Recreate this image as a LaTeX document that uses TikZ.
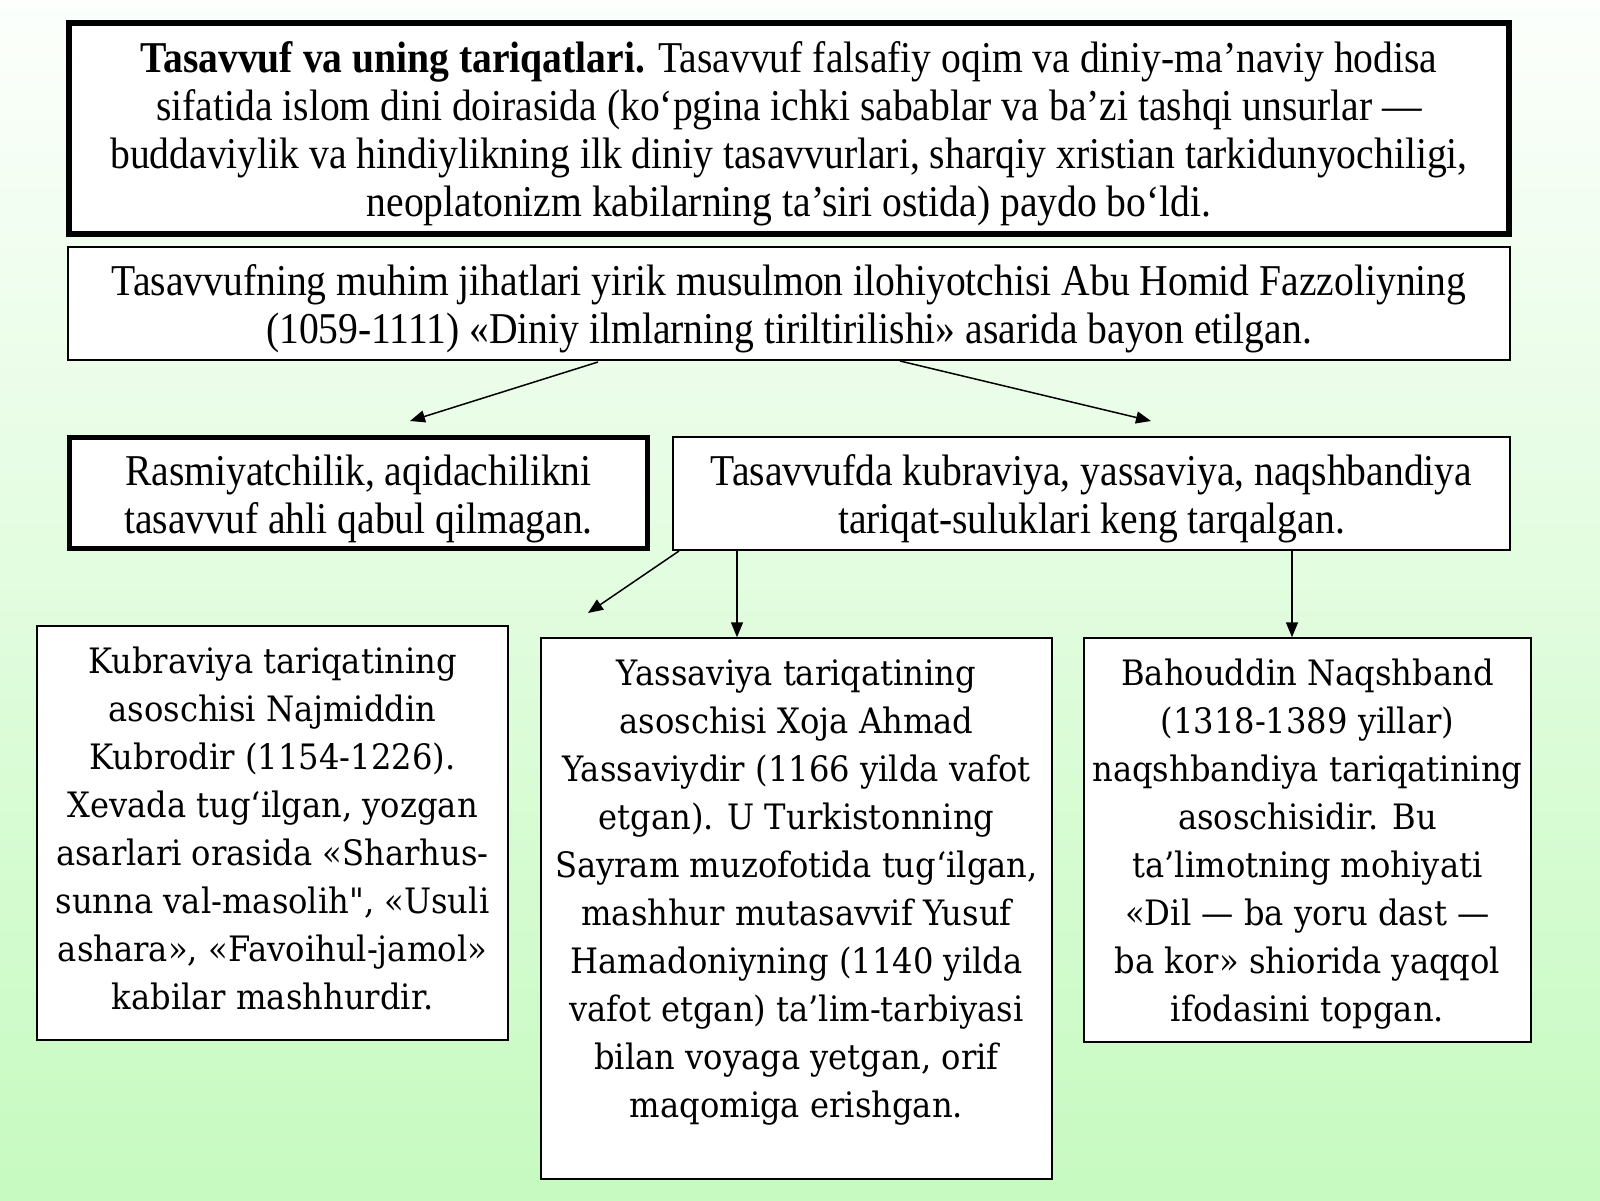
\documentclass[tikz,border=0pt]{standalone}
\usepackage{fontspec}
\usetikzlibrary{arrows.meta}
\newfontfamily\topfont[FakeStretch=0.9]{Liberation Serif}
\newfontfamily\lowfont[FakeStretch=0.92]{DejaVu Serif}
\definecolor{bgtop}{RGB}{252,255,252}
\definecolor{bgbot}{RGB}{198,250,192}
\newcommand{\firststrut}[1]{\rule{0pt}{#1}}
\newcommand{\laststrut}[1]{\rule[-#1]{0pt}{#1}}
\tikzset{
  thickbox/.style={draw=black, line width=6pt, fill=white, inner sep=0pt, align=center, font=\topfont\fontsize{44}{48}\selectfont},
  thinbox/.style={draw=black, line width=1.5pt, fill=white, inner sep=0pt, align=center, font=\topfont\fontsize{44}{48}\selectfont},
  lowbox/.style={draw=black, line width=1.5pt, fill=white, inner sep=0pt, align=center, font=\lowfont\fontsize{35}{48}\selectfont},
  lowtext/.style={inner sep=0pt, align=center, font=\lowfont\fontsize{35}{48}\selectfont},
  arr/.style={line width=1.5pt, -{Triangle[length=15pt,width=12pt]}}
}
\begin{document}
\begin{tikzpicture}[x=1pt,y=-1pt]
\useasboundingbox (0,0) rectangle (1600,1200);
\shade[top color=bgtop, bottom color=bgbot] (0,0) rectangle (1600,1200);

\node[thickbox, minimum width=1440pt, minimum height=211pt] (top) at (789,128.5)
{\firststrut{42pt}\textbf{Tasavvuf va uning tariqatlari.} Tasavvuf falsafiy oqim va diniy-ma’naviy hodisa\\
sifatida islom dini doirasida (ko‘pgina ichki sabablar va ba’zi tashqi unsurlar —\\
buddaviylik va hindiylikning ilk diniy tasavvurlari, sharqiy xristian tarkidunyochiligi,\\
neoplatonizm kabilarning ta’siri ostida) paydo bo‘ldi.};

\node[thinbox, minimum width=1442pt, minimum height=113pt] (fazz) at (789,303.5)
{\firststrut{42pt}Tasavvufning muhim jihatlari yirik musulmon ilohiyotchisi Abu Homid Fazzoliyning\\
(1059-1111) «Diniy ilmlarning tiriltirilishi» asarida bayon etilgan.};

\node[thickbox, line width=5pt, minimum width=578pt, minimum height=111pt] (rasm) at (358.5,493)
{\firststrut{42pt}Rasmiyatchilik, aqidachilikni\\ tasavvuf ahli qabul qilmagan.};

\node[thinbox, minimum width=837pt, minimum height=113pt] (tar) at (1091.5,493.5)
{\firststrut{42pt}Tasavvufda kubraviya, yassaviya, naqshbandiya\\ tariqat-suluklari keng tarqalgan.};

\node[lowbox, minimum width=471pt, minimum height=414pt] (kub) at (272.5,833)
{Kubraviya tariqatining\\ asoschisi Najmiddin\\ Kubrodir (1154-1226).\\ Xevada tug‘ilgan, yozgan\\ asarlari orasida «Sharhus-\\ sunna val-masolih", «Usuli\\ ashara», «Favoihul-jamol»\\ kabilar mashhurdir.\laststrut{9pt}};

\node[lowbox, minimum width=511pt, minimum height=541pt] (yas) at (796.5,908.5) {};
\node[lowtext, anchor=north] (yastxt) at ([yshift=-22pt]yas.north)
{Yassaviya tariqatining\\ asoschisi Xoja Ahmad\\ Yassaviydir (1166 yilda vafot\\ etgan). U Turkistonning\\ Sayram muzofotida tug‘ilgan,\\ mashhur mutasavvif Yusuf\\ Hamadoniyning (1140 yilda\\ vafot etgan) ta’lim-tarbiyasi\\ bilan voyaga yetgan, orif\\ maqomiga erishgan.};

\node[lowbox, minimum width=447pt, minimum height=404pt] (bah) at (1307.5,840)
{\firststrut{35pt}Bahouddin Naqshband\\ (1318-1389 yillar)\\ naqshbandiya tariqatining\\ asoschisidir. Bu\\ ta’limotning mohiyati\\ «Dil — ba yoru dast —\\ ba kor» shiorida yaqqol\\ ifodasini topgan.};

\coordinate (s1) at (598,362);
\coordinate (e1) at (410,421);
\coordinate (s2) at (900,361);
\coordinate (e2) at (1151,421);
\coordinate (s3) at (679,551);
\coordinate (e3) at (588,613);
\coordinate (s4) at (737,551);
\coordinate (s5) at (1292,551);

\draw[arr] (s1) -- (e1);
\draw[arr] (s2) -- (e2);
\draw[arr] (s3) -- (e3);
\draw[arr] (s4) -- (s4 |- yas.north);
\draw[arr] (s5) -- (s5 |- bah.north);
\end{tikzpicture}
\end{document}
